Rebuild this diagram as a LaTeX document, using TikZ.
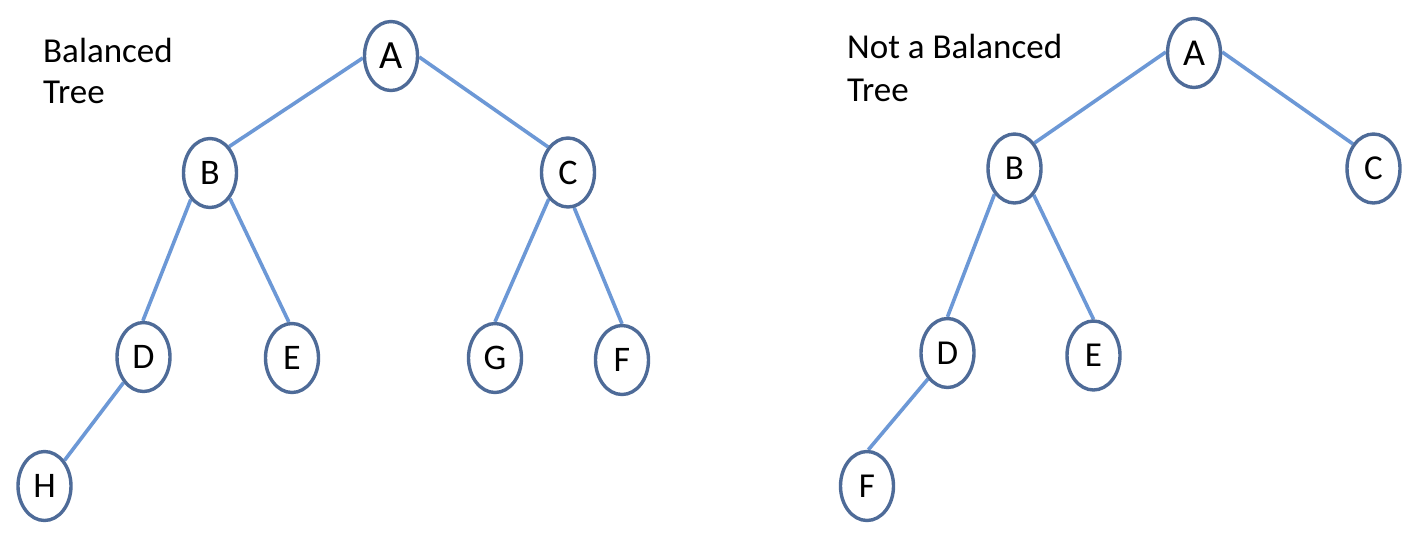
\documentclass[tikz,border=0pt]{standalone}
\usepackage{fontspec}
\setmainfont{Carlito}
\usetikzlibrary{shapes.geometric}
\definecolor{nodeline}{RGB}{78,107,152}
\definecolor{edgeline}{RGB}{108,152,214}
\pgfdeclarelayer{bg}
\pgfdeclarelayer{canvas}
\pgfsetlayers{canvas,bg,main}
\tikzset{
  tnode/.style={ellipse, draw=nodeline, fill=white, line width=3.4, minimum width=53, minimum height=69, inner sep=0pt, font=\fontsize{36}{40}\selectfont},
  rnode/.style={tnode, font=\fontsize{35}{38}\selectfont},
  bignode/.style={font=\fontsize{40}{44}\selectfont},
  rbignode/.style={font=\fontsize{38}{42}\selectfont},
  edge/.style={draw=edgeline, line width=3.6},
  label/.style={anchor=base west, inner sep=0pt, align=left}
}
\begin{document}
\begin{tikzpicture}[x=1pt,y=-1pt]
\begin{pgfonlayer}{canvas}
\fill[white] (0,0) rectangle (1414,550);
\end{pgfonlayer}
\useasboundingbox (0,0) rectangle (1414,550);
% Left tree
\node[tnode,bignode] (LA) at (391,56) {A};
\node[tnode] (LB) at (210,173) {B};
\node[tnode] (LC) at (568,172.5) {C};
\node[tnode] (LD) at (143.5,357) {D};
\node[tnode] (LE) at (292,358) {E};
\node[tnode] (LG) at (495,358) {G};
\node[tnode] (LF) at (622,360) {F};
\node[tnode] (LH) at (44.5,486) {H};
\node[label, font=\fontsize{35}{41}\selectfont] (LT) at (43,103) {Balanced\\Tree};
% Right tree
\node[rnode,rbignode] (RA) at (1194,53) {A};
\node[rnode] (RB) at (1014.5,168.5) {B};
\node[rnode] (RC) at (1373.5,168.5) {C};
\node[rnode] (RD) at (947.5,353) {D};
\node[rnode] (RE) at (1093.5,355.5) {E};
\node[rnode] (RF) at (867,486) {F};
\node[label, font=\fontsize{35}{43}\selectfont] (RT) at (847,101) {Not a Balanced\\Tree};
\begin{pgfonlayer}{bg}
\draw[edge] (LA.184) -- (LB.54);
\draw[edge] (LA.358) -- (LC.128);
\draw[edge] (LB.234) -- (LD.91);
\draw[edge] (LB.308) -- (LE.95);
\draw[edge] (LC.234) -- (LG.90);
\draw[edge] (LC.280) -- (LF.90);
\draw[edge] (LD.232) -- (LH.52);
\draw[edge] (RA.178) -- (RB.52);
\draw[edge] (RA.2) -- (RC.130);
\draw[edge] (RB.232) -- (RD.90);
\draw[edge] (RB.306) -- (RE.90);
\draw[edge] (RD.233) -- (RF.88);
\end{pgfonlayer}
\end{tikzpicture}
\end{document}
